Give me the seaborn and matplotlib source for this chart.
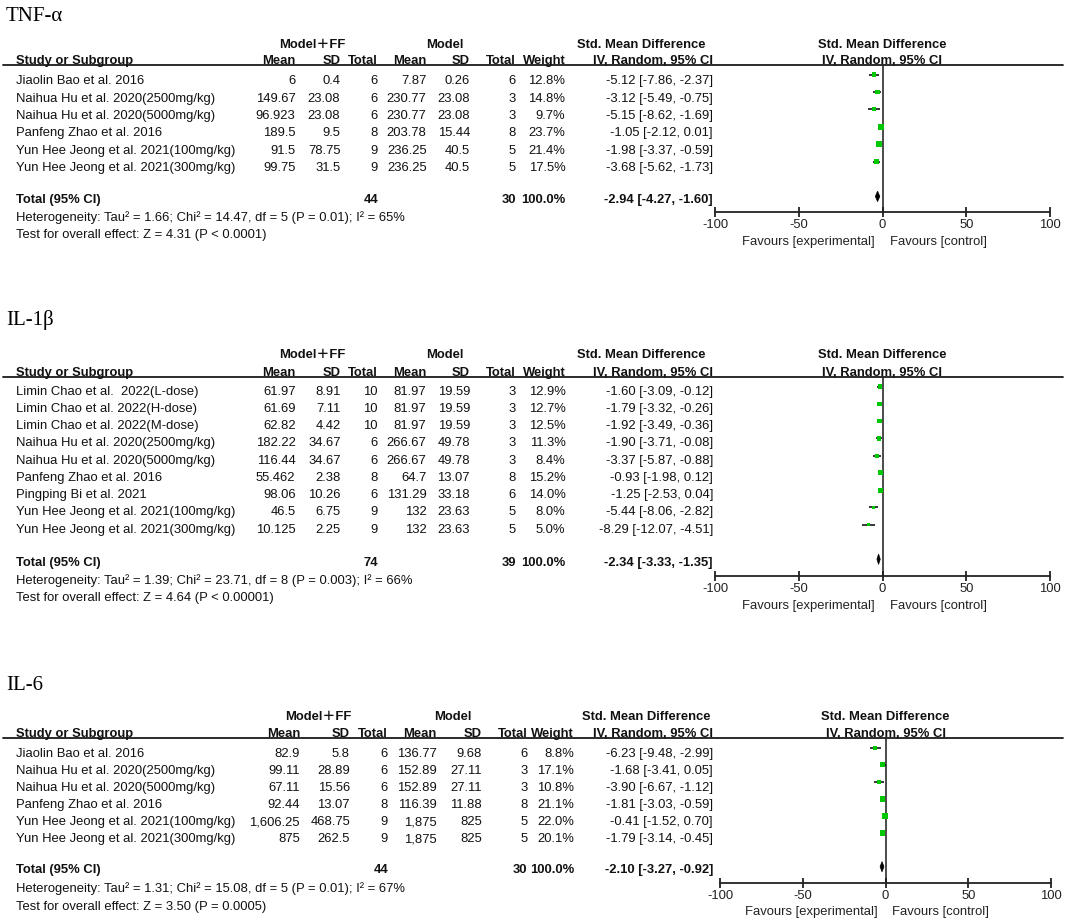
import numpy as np
import pandas as pd
import matplotlib
matplotlib.use("Agg")
import matplotlib.pyplot as plt
import seaborn as sns
from matplotlib.patches import Polygon
from matplotlib.lines import Line2D

# ---------------- data ----------------
# TNF-alpha
tnf_study = ["Jiaolin Bao et al. 2016", "Naihua Hu et al. 2020(2500mg/kg)",
             "Naihua Hu et al. 2020(5000mg/kg)", "Panfeng Zhao et al. 2016",
             "Yun Hee Jeong et al. 2021(100mg/kg)", "Yun Hee Jeong et al. 2021(300mg/kg)"]
tnf_m1 = ["6", "149.67", "96.923", "189.5", "91.5", "99.75"]
tnf_sd1 = ["0.4", "23.08", "23.08", "9.5", "78.75", "31.5"]
tnf_n1 = [6, 6, 6, 8, 9, 9]
tnf_m2 = ["7.87", "230.77", "230.77", "203.78", "236.25", "236.25"]
tnf_sd2 = ["0.26", "23.08", "23.08", "15.44", "40.5", "40.5"]
tnf_n2 = [6, 3, 3, 8, 5, 5]
tnf_w = [12.8, 14.8, 9.7, 23.7, 21.4, 17.5]
tnf_smd = [-5.12, -3.12, -5.15, -1.05, -1.98, -3.68]
tnf_lo = [-7.86, -5.49, -8.62, -2.12, -3.37, -5.62]
tnf_hi = [-2.37, -0.75, -1.69, 0.01, -0.59, -1.73]
tnf_total = [-2.94, -4.27, -1.60]
tnf_het = "Heterogeneity: Tau² = 1.66; Chi² = 14.47, df = 5 (P = 0.01); I² = 65%"
tnf_test = "Test for overall effect: Z = 4.31 (P < 0.0001)"

# IL-1beta
il1_study = ["Limin Chao et al.  2022(L-dose)", "Limin Chao et al. 2022(H-dose)",
             "Limin Chao et al. 2022(M-dose)", "Naihua Hu et al. 2020(2500mg/kg)",
             "Naihua Hu et al. 2020(5000mg/kg)", "Panfeng Zhao et al. 2016",
             "Pingping Bi et al. 2021", "Yun Hee Jeong et al. 2021(100mg/kg)",
             "Yun Hee Jeong et al. 2021(300mg/kg)"]
il1_m1 = ["61.97", "61.69", "62.82", "182.22", "116.44", "55.462", "98.06", "46.5", "10.125"]
il1_sd1 = ["8.91", "7.11", "4.42", "34.67", "34.67", "2.38", "10.26", "6.75", "2.25"]
il1_n1 = [10, 10, 10, 6, 6, 8, 6, 9, 9]
il1_m2 = ["81.97", "81.97", "81.97", "266.67", "266.67", "64.7", "131.29", "132", "132"]
il1_sd2 = ["19.59", "19.59", "19.59", "49.78", "49.78", "13.07", "33.18", "23.63", "23.63"]
il1_n2 = [3, 3, 3, 3, 3, 8, 6, 5, 5]
il1_w = [12.9, 12.7, 12.5, 11.3, 8.4, 15.2, 14.0, 8.0, 5.0]
il1_smd = [-1.60, -1.79, -1.92, -1.90, -3.37, -0.93, -1.25, -5.44, -8.29]
il1_lo = [-3.09, -3.32, -3.49, -3.71, -5.87, -1.98, -2.53, -8.06, -12.07]
il1_hi = [-0.12, -0.26, -0.36, -0.08, -0.88, 0.12, 0.04, -2.82, -4.51]
il1_total = [-2.34, -3.33, -1.35]
il1_het = "Heterogeneity: Tau² = 1.39; Chi² = 23.71, df = 8 (P = 0.003); I² = 66%"
il1_test = "Test for overall effect: Z = 4.64 (P < 0.00001)"

# IL-6
il6_study = ["Jiaolin Bao et al. 2016", "Naihua Hu et al. 2020(2500mg/kg)",
             "Naihua Hu et al. 2020(5000mg/kg)", "Panfeng Zhao et al. 2016",
             "Yun Hee Jeong et al. 2021(100mg/kg)", "Yun Hee Jeong et al. 2021(300mg/kg)"]
il6_m1 = ["82.9", "99.11", "67.11", "92.44", "1,606.25", "875"]
il6_sd1 = ["5.8", "28.89", "15.56", "13.07", "468.75", "262.5"]
il6_n1 = [6, 6, 6, 8, 9, 9]
il6_m2 = ["136.77", "152.89", "152.89", "116.39", "1,875", "1,875"]
il6_sd2 = ["9.68", "27.11", "27.11", "11.88", "825", "825"]
il6_n2 = [6, 3, 3, 8, 5, 5]
il6_w = [8.8, 17.1, 10.8, 21.1, 22.0, 20.1]
il6_smd = [-6.23, -1.68, -3.90, -1.81, -0.41, -1.79]
il6_lo = [-9.48, -3.41, -6.67, -3.03, -1.52, -3.14]
il6_hi = [-2.99, 0.05, -1.12, -0.59, 0.70, -0.45]
il6_total = [-2.10, -3.27, -0.92]
il6_het = "Heterogeneity: Tau² = 1.31; Chi² = 15.08, df = 5 (P = 0.01); I² = 67%"
il6_test = "Test for overall effect: Z = 3.50 (P = 0.0005)"

xticks = [-100, -50, 0, 50, 100]
col_headers = ["Mean", "SD", "Total", "Mean", "SD", "Total", "Weight", "IV, Random, 95% CI"]
group_headers = ["Model＋FF", "Model", "Std. Mean Difference"]

# ---------------- style ----------------
sns.set_theme(style="white")
plt.rcParams['font.family'] = ['Liberation Sans', 'Noto Sans CJK SC', 'DejaVu Sans']
plt.rcParams['axes.unicode_minus'] = False

W, H = 1065, 924
fig = plt.figure(figsize=(W / 100, H / 100), dpi=100)
fig.patch.set_facecolor('white')

FS = 9.4
GREEN = '#00C800'
TXT = '#111111'


def ftext(x, yc, s, ha='left', bold=False, size=FS, color=TXT, family=None):
    kw = {}
    if family is not None:
        kw['family'] = family
    fig.text(x / W, 1 - (yc + size * 100 / 72 * 0.716 / 2) / H, s, ha=ha, va='baseline',
             fontsize=size, fontweight='bold' if bold else 'normal', color=color, **kw)


def panel(d, g):
    c = g['cols']
    # title
    fig.text(6 / W, 1 - g['title_base'] / H, d['title'], ha='left', va='baseline',
             fontsize=15, family=['Liberation Serif', 'DejaVu Serif'], color='black')
    # group headers
    for hx, s in zip(g['hdr'], group_headers):
        ftext(hx, g['h1'], s, ha='center', bold=True)
    ftext(16, g['h2'], "Study or Subgroup", bold=True)
    for cx, s in zip(c, col_headers):
        ftext(cx, g['h2'], s, ha='right', bold=True)
    # header rule
    fig.add_artist(Line2D([3 / W, 1063 / W], [1 - g['line'] / H] * 2, transform=fig.transFigure,
                          color='#1a1a1a', lw=1.3))
    # rows
    n = len(d['study'])
    for i in range(n):
        yc = g['row0'] + g['dy'] * i
        vals = [d['m1'][i], d['sd1'][i], str(d['n1'][i]), d['m2'][i], d['sd2'][i],
                str(d['n2'][i]), f"{d['w'][i]:.1f}%",
                f"{d['smd'][i]:.2f} [{d['lo'][i]:.2f}, {d['hi'][i]:.2f}]"]
        ftext(16, yc, d['study'][i])
        for cx, s in zip(c, vals):
            ftext(cx, yc, s, ha='right')
    # total row
    t = d['total']
    ftext(16, g['tot'], "Total (95% CI)", bold=True)
    ftext(c[2], g['tot'], str(sum(d['n1'])), ha='right', bold=True)
    ftext(c[5], g['tot'], str(sum(d['n2'])), ha='right', bold=True)
    ftext(c[6], g['tot'], "100.0%", ha='right', bold=True)
    ftext(c[7], g['tot'], f"{t[0]:.2f} [{t[1]:.2f}, {t[2]:.2f}]", ha='right', bold=True)
    ftext(16, g['het'], d['het'])
    ftext(16, g['test'], d['test'])

    # forest axes
    x0, x1 = g['ax_x']
    ytop, ybot = g['ax_y']
    ax = fig.add_axes([x0 / W, 1 - ybot / H, (x1 - x0) / W, (ybot - ytop) / H])
    ax.set_facecolor('none')
    df = pd.DataFrame({'smd': d['smd'], 'lo': d['lo'], 'hi': d['hi'],
                       'weight': d['w'], 'row': np.arange(n)})
    ax.hlines(df['row'], df['lo'], df['hi'], color='black', lw=1.1, zorder=2)
    sns.scatterplot(data=df, x='smd', y='row', size='weight', sizes=(0, 85),
                    size_norm=(0, 100), marker='s', color=GREEN, linewidth=0,
                    legend=False, ax=ax, zorder=3)
    ty = n + 1
    ax.add_patch(Polygon([[t[1], ty], [t[0], ty - 0.3], [t[2], ty], [t[0], ty + 0.3]],
                         closed=True, facecolor='black', edgecolor='black', lw=0.5, zorder=4))
    ax.axvline(0, color='#1a1a1a', lw=1.1, zorder=1)
    ax.set_xlim(-100, 100)
    ax.set_ylim((ybot - g['sq0']) / g['dy'], (ytop - g['sq0']) / g['dy'])
    ax.set_xticks(xticks)
    ax.set_xticklabels([str(v) for v in xticks])
    ax.set_yticks([])
    ax.set_xlabel('')
    ax.set_ylabel('')
    for sp in ['top', 'right', 'left']:
        ax.spines[sp].set_visible(False)
    ax.spines['bottom'].set_color('#222222')
    ax.spines['bottom'].set_linewidth(1.3)
    ax.tick_params(axis='x', direction='inout', length=7, width=1.3, colors='#222222',
                   labelsize=FS, pad=2, bottom=True)
    for lab in ax.get_xticklabels():
        lab.set_color('#222222')
    # favours labels
    zx = x0 + (x1 - x0) / 2
    ftext(zx - 8, g['fav'], "Favours [experimental]", ha='right', color='#222222')
    ftext(zx + 7, g['fav'], "Favours [control]", ha='left', color='#222222')
    # right headers
    ftext(zx, g['h1'], "Std. Mean Difference", ha='center', bold=True)
    ftext(zx, g['h2'], "IV, Random, 95% CI", ha='center', bold=True)


tnf = dict(title="TNF-α", study=tnf_study, m1=tnf_m1, sd1=tnf_sd1, n1=tnf_n1, m2=tnf_m2,
           sd2=tnf_sd2, n2=tnf_n2, w=tnf_w, smd=tnf_smd, lo=tnf_lo, hi=tnf_hi,
           total=tnf_total, het=tnf_het, test=tnf_test)
il1 = dict(title="IL-1β", study=il1_study, m1=il1_m1, sd1=il1_sd1, n1=il1_n1, m2=il1_m2,
           sd2=il1_sd2, n2=il1_n2, w=il1_w, smd=il1_smd, lo=il1_lo, hi=il1_hi,
           total=il1_total, het=il1_het, test=il1_test)
il6 = dict(title="IL-6", study=il6_study, m1=il6_m1, sd1=il6_sd1, n1=il6_n1, m2=il6_m2,
           sd2=il6_sd2, n2=il6_n2, w=il6_w, smd=il6_smd, lo=il6_lo, hi=il6_hi,
           total=il6_total, het=il6_het, test=il6_test)

cols12 = [295.5, 340.5, 378, 426.5, 470, 516, 565.5, 713]
cols3 = [300, 350, 388, 436.5, 482, 527.5, 574, 713]

g1 = dict(title_base=21, h1=43.3, h2=59.5, line=65, row0=79.5, dy=17.4, tot=198.3,
          het=216.7, test=233.3, cols=cols12, hdr=[312.5, 445, 641.5],
          ax_x=(715, 1050), ax_y=(64.5, 211.7), sq0=74.6, fav=240.7)
g2 = dict(title_base=325, h1=353.3, h2=371, line=377, row0=390, dy=17.25, tot=561,
          het=579.3, test=596.7, cols=cols12, hdr=[312.5, 445, 641.5],
          ax_x=(715, 1050), ax_y=(377, 575.7), sq0=386.7, fav=604)
g3 = dict(title_base=690, h1=715.7, h2=732.5, line=737.7, row0=752.5, dy=17.0, tot=868.7,
          het=887.3, test=905, cols=cols3, hdr=[318, 453, 646],
          ax_x=(720, 1051), ax_y=(737.7, 882.7), sq0=747.7, fav=910)

panel(tnf, g1)
panel(il1, g2)
panel(il6, g3)

fig.savefig("out.png", dpi=100, facecolor='white')
